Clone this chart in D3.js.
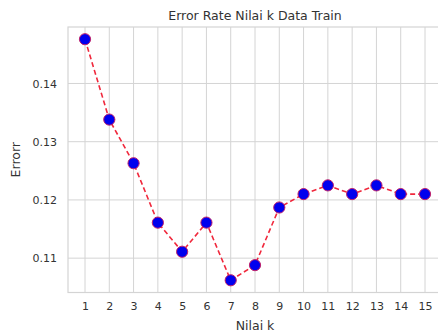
<!DOCTYPE html>
<html><head><meta charset="utf-8">
<script src="https://cdn.jsdelivr.net/npm/d3@7"></script>
<style>body{margin:0;background:#fff;} text{font-family:"DejaVu Sans",sans-serif;}</style>
</head><body>
<svg id="c" width="438" height="333"></svg>
<script>
const kValues = [1,2,3,4,5,6,7,8,9,10,11,12,13,14,15];
const errorRates = [0.1476,0.1338,0.1263,0.1161,0.1111,0.1161,0.1062,0.1088,0.1187,0.1210,0.1225,0.1210,0.1225,0.1210,0.1210];
const yTicks = [0.11,0.12,0.13,0.14];
const title = "Error Rate Nilai k Data Train";
const xLabel = "Nilai k";
const yLabel = "Errorr";

const svg = d3.select("#c");
const L = 68, R = 442, T = 27, B = 292.5;
const x = d3.scaleLinear().domain([0.3, 15.7]).range([L, R]);
const y = d3.scaleLinear().domain([0.1041, 0.1497]).range([B, T]);
const grid = "#d4d4d4";
const g = svg.append("g");

// grid
g.selectAll(".vg").data(kValues).enter().append("line")
  .attr("x1", d => x(d)).attr("x2", d => x(d)).attr("y1", T).attr("y2", B)
  .attr("stroke", grid).attr("stroke-width", 1);
g.selectAll(".hg").data(yTicks).enter().append("line")
  .attr("x1", L).attr("x2", R).attr("y1", d => y(d)).attr("y2", d => y(d))
  .attr("stroke", grid).attr("stroke-width", 1);
// frame
g.append("rect").attr("x", L).attr("y", T).attr("width", R - L).attr("height", B - T)
  .attr("fill", "none").attr("stroke", grid).attr("stroke-width", 1.2);

// axes labels via d3 axes
const xAxis = d3.axisBottom(x).tickValues(kValues).tickSize(0).tickPadding(10).tickFormat(d3.format("d"));
const xa = svg.append("g").attr("transform", `translate(0,${B})`).call(xAxis);
xa.select(".domain").remove();
xa.selectAll("text").attr("font-size", 11).attr("fill", "#333").attr("font-family", "DejaVu Sans");

const yAxis = d3.axisLeft(y).tickValues(yTicks).tickSize(0).tickPadding(11).tickFormat(d3.format(".2f"));
const ya = svg.append("g").attr("transform", `translate(${L},0)`).call(yAxis);
ya.select(".domain").remove();
ya.selectAll("text").attr("font-size", 11).attr("fill", "#333").attr("font-family", "DejaVu Sans");

// line
const line = d3.line().x((d, i) => x(kValues[i])).y(d => y(d));
svg.append("path").datum(errorRates).attr("d", line)
  .attr("fill", "none").attr("stroke", "#f0283c").attr("stroke-width", 1.6)
  .attr("stroke-dasharray", "5,3");
// markers
svg.selectAll(".pt").data(errorRates).enter().append("circle")
  .attr("cx", (d, i) => x(kValues[i])).attr("cy", d => y(d)).attr("r", 5.6)
  .attr("fill", "#0000ee").attr("stroke", "#c0206a").attr("stroke-width", 1);

// texts
svg.append("text").attr("x", (L + R) / 2).attr("y", 20).attr("text-anchor", "middle")
  .attr("font-size", 12.5).attr("fill", "#333").text(title);
svg.append("text").attr("x", (L + R) / 2).attr("y", 330).attr("text-anchor", "middle")
  .attr("font-size", 12.5).attr("fill", "#333").text(xLabel);
svg.append("text").attr("transform", `translate(20,${(T + B) / 2}) rotate(-90)`).attr("text-anchor", "middle")
  .attr("font-size", 12.5).attr("fill", "#333").text(yLabel);
</script>
</body></html>
